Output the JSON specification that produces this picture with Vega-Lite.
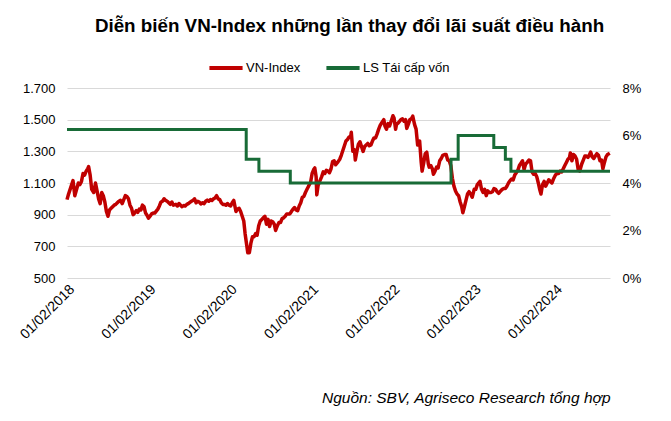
{
  "$schema": "https://vega.github.io/schema/vega-lite/v6.json",
  "width": 543,
  "height": 190,
  "autosize": "none",
  "padding": {"left": 67, "top": 88, "right": 61, "bottom": 143},
  "background": "white",
  "config": {"view": {"stroke": null}, "font": "Liberation Sans"},
  "title": {
    "text": "Diễn biến VN-Index những lần thay đổi lãi suất điều hành",
    "fontSize": 18.8, "fontWeight": "bold", "font": "Liberation Sans", "color": "#000000",
    "anchor": "middle", "frame": "group", "offset": 13, "dx": 11
  },
  "datasets": {
    "vn": [
      {"d":"2018-01-02","v":995},{"d":"2018-01-09","v":1030},{"d":"2018-01-16","v":1060},{"d":"2018-01-23","v":1090},{"d":"2018-01-29","v":1115},
      {"d":"2018-02-06","v":1020},{"d":"2018-02-12","v":1050},{"d":"2018-02-22","v":1100},{"d":"2018-03-01","v":1090},{"d":"2018-03-08","v":1110},
      {"d":"2018-03-15","v":1160},{"d":"2018-03-22","v":1150},{"d":"2018-03-29","v":1175},{"d":"2018-04-05","v":1190},{"d":"2018-04-09","v":1204},
      {"d":"2018-04-16","v":1150},{"d":"2018-04-23","v":1060},{"d":"2018-05-02","v":1040},{"d":"2018-05-10","v":1100},{"d":"2018-05-17","v":1050},
      {"d":"2018-05-24","v":1000},{"d":"2018-05-31","v":970},{"d":"2018-06-07","v":1040},{"d":"2018-06-14","v":1020},{"d":"2018-06-21","v":980},
      {"d":"2018-06-28","v":920},{"d":"2018-07-05","v":890},{"d":"2018-07-12","v":930},{"d":"2018-07-19","v":940},{"d":"2018-07-26","v":950},
      {"d":"2018-08-02","v":960},{"d":"2018-08-09","v":965},{"d":"2018-08-16","v":975},{"d":"2018-08-23","v":985},{"d":"2018-08-30","v":990},
      {"d":"2018-09-07","v":970},{"d":"2018-09-14","v":995},{"d":"2018-09-21","v":1020},{"d":"2018-09-28","v":1015},{"d":"2018-10-05","v":1000},
      {"d":"2018-10-12","v":960},{"d":"2018-10-19","v":940},{"d":"2018-10-26","v":900},{"d":"2018-11-02","v":910},{"d":"2018-11-09","v":925},
      {"d":"2018-11-16","v":915},{"d":"2018-11-23","v":935},{"d":"2018-11-30","v":930},{"d":"2018-12-07","v":960},{"d":"2018-12-14","v":950},
      {"d":"2018-12-21","v":910},{"d":"2018-12-28","v":895},{"d":"2019-01-03","v":878},{"d":"2019-01-10","v":890},{"d":"2019-01-17","v":905},
      {"d":"2019-01-24","v":910},{"d":"2019-01-31","v":910},{"d":"2019-02-14","v":935},{"d":"2019-02-21","v":955},{"d":"2019-02-28","v":980},
      {"d":"2019-03-07","v":985},{"d":"2019-03-14","v":1000},{"d":"2019-03-21","v":990},{"d":"2019-03-28","v":985},{"d":"2019-04-04","v":975},
      {"d":"2019-04-11","v":965},{"d":"2019-04-18","v":980},{"d":"2019-04-25","v":960},{"d":"2019-05-06","v":965},{"d":"2019-05-13","v":955},
      {"d":"2019-05-20","v":970},{"d":"2019-05-27","v":960},{"d":"2019-06-03","v":950},{"d":"2019-06-10","v":958},{"d":"2019-06-17","v":955},
      {"d":"2019-06-24","v":965},{"d":"2019-07-01","v":970},{"d":"2019-07-08","v":978},{"d":"2019-07-15","v":985},{"d":"2019-07-22","v":990},
      {"d":"2019-07-29","v":1000},{"d":"2019-08-05","v":975},{"d":"2019-08-12","v":985},{"d":"2019-08-19","v":980},{"d":"2019-08-26","v":968},
      {"d":"2019-09-03","v":975},{"d":"2019-09-10","v":970},{"d":"2019-09-17","v":985},{"d":"2019-09-24","v":992},{"d":"2019-10-01","v":985},
      {"d":"2019-10-08","v":995},{"d":"2019-10-15","v":990},{"d":"2019-10-22","v":1000},{"d":"2019-10-29","v":1005},{"d":"2019-11-05","v":1020},
      {"d":"2019-11-12","v":1000},{"d":"2019-11-19","v":995},{"d":"2019-11-26","v":975},{"d":"2019-12-03","v":965},{"d":"2019-12-10","v":965},
      {"d":"2019-12-17","v":960},{"d":"2019-12-24","v":970},{"d":"2019-12-31","v":960},{"d":"2020-01-07","v":955},{"d":"2020-01-14","v":975},
      {"d":"2020-01-21","v":990},{"d":"2020-01-31","v":920},{"d":"2020-02-07","v":935},{"d":"2020-02-14","v":940},{"d":"2020-02-21","v":920},
      {"d":"2020-02-28","v":890},{"d":"2020-03-06","v":860},{"d":"2020-03-12","v":780},{"d":"2020-03-19","v":710},{"d":"2020-03-24","v":660},
      {"d":"2020-03-31","v":660},{"d":"2020-04-07","v":720},{"d":"2020-04-14","v":760},{"d":"2020-04-21","v":760},{"d":"2020-04-28","v":780},
      {"d":"2020-05-05","v":770},{"d":"2020-05-12","v":830},{"d":"2020-05-19","v":860},{"d":"2020-05-26","v":870},{"d":"2020-06-02","v":880},
      {"d":"2020-06-09","v":890},{"d":"2020-06-16","v":840},{"d":"2020-06-23","v":870},{"d":"2020-06-30","v":825},{"d":"2020-07-07","v":860},
      {"d":"2020-07-14","v":855},{"d":"2020-07-21","v":840},{"d":"2020-07-27","v":800},{"d":"2020-08-04","v":830},{"d":"2020-08-11","v":850},
      {"d":"2020-08-18","v":850},{"d":"2020-08-25","v":875},{"d":"2020-09-01","v":880},{"d":"2020-09-08","v":890},{"d":"2020-09-15","v":905},
      {"d":"2020-09-22","v":905},{"d":"2020-09-29","v":905},{"d":"2020-10-06","v":920},{"d":"2020-10-13","v":935},{"d":"2020-10-20","v":945},
      {"d":"2020-10-27","v":930},{"d":"2020-11-03","v":925},{"d":"2020-11-10","v":955},{"d":"2020-11-17","v":975},{"d":"2020-11-24","v":1010},
      {"d":"2020-12-01","v":1015},{"d":"2020-12-08","v":1040},{"d":"2020-12-15","v":1060},{"d":"2020-12-22","v":1080},{"d":"2020-12-31","v":1103},
      {"d":"2021-01-07","v":1160},{"d":"2021-01-14","v":1185},{"d":"2021-01-19","v":1195},{"d":"2021-01-25","v":1140},{"d":"2021-01-28","v":1025},
      {"d":"2021-02-03","v":1085},{"d":"2021-02-10","v":1110},{"d":"2021-02-19","v":1140},{"d":"2021-02-26","v":1170},{"d":"2021-03-05","v":1160},
      {"d":"2021-03-12","v":1180},{"d":"2021-03-19","v":1175},{"d":"2021-03-26","v":1165},{"d":"2021-04-02","v":1190},{"d":"2021-04-09","v":1235},
      {"d":"2021-04-16","v":1240},{"d":"2021-04-23","v":1215},{"d":"2021-05-04","v":1235},{"d":"2021-05-11","v":1250},{"d":"2021-05-18","v":1275},
      {"d":"2021-05-25","v":1305},{"d":"2021-06-01","v":1335},{"d":"2021-06-08","v":1365},{"d":"2021-06-15","v":1375},{"d":"2021-06-22","v":1390},
      {"d":"2021-06-29","v":1390},{"d":"2021-07-02","v":1420},{"d":"2021-07-09","v":1300},{"d":"2021-07-16","v":1310},{"d":"2021-07-20","v":1245},
      {"d":"2021-07-27","v":1300},{"d":"2021-08-03","v":1345},{"d":"2021-08-10","v":1360},{"d":"2021-08-17","v":1330},{"d":"2021-08-24","v":1300},
      {"d":"2021-08-31","v":1330},{"d":"2021-09-07","v":1340},{"d":"2021-09-14","v":1350},{"d":"2021-09-21","v":1335},{"d":"2021-09-28","v":1340},
      {"d":"2021-10-05","v":1365},{"d":"2021-10-12","v":1385},{"d":"2021-10-19","v":1385},{"d":"2021-10-26","v":1410},{"d":"2021-11-02","v":1440},
      {"d":"2021-11-09","v":1465},{"d":"2021-11-16","v":1480},{"d":"2021-11-25","v":1500},{"d":"2021-11-30","v":1460},{"d":"2021-12-07","v":1440},
      {"d":"2021-12-14","v":1475},{"d":"2021-12-21","v":1460},{"d":"2021-12-28","v":1490},{"d":"2022-01-05","v":1525},{"d":"2022-01-10","v":1510},
      {"d":"2022-01-17","v":1440},{"d":"2022-01-21","v":1470},{"d":"2022-01-28","v":1478},{"d":"2022-02-10","v":1500},{"d":"2022-02-17","v":1505},
      {"d":"2022-02-24","v":1490},{"d":"2022-03-03","v":1500},{"d":"2022-03-08","v":1445},{"d":"2022-03-15","v":1470},{"d":"2022-03-22","v":1500},
      {"d":"2022-03-29","v":1505},{"d":"2022-04-04","v":1522},{"d":"2022-04-12","v":1470},{"d":"2022-04-19","v":1440},{"d":"2022-04-26","v":1340},
      {"d":"2022-05-05","v":1365},{"d":"2022-05-12","v":1230},{"d":"2022-05-16","v":1175},{"d":"2022-05-23","v":1225},{"d":"2022-05-30","v":1285},
      {"d":"2022-06-06","v":1295},{"d":"2022-06-13","v":1220},{"d":"2022-06-17","v":1200},{"d":"2022-06-24","v":1210},{"d":"2022-07-01","v":1190},
      {"d":"2022-07-06","v":1155},{"d":"2022-07-13","v":1175},{"d":"2022-07-20","v":1200},{"d":"2022-07-27","v":1195},{"d":"2022-08-03","v":1240},
      {"d":"2022-08-10","v":1255},{"d":"2022-08-17","v":1275},{"d":"2022-08-25","v":1280},{"d":"2022-09-01","v":1280},{"d":"2022-09-08","v":1245},
      {"d":"2022-09-15","v":1240},{"d":"2022-09-22","v":1210},{"d":"2022-09-29","v":1130},{"d":"2022-10-06","v":1080},{"d":"2022-10-13","v":1050},
      {"d":"2022-10-20","v":1030},{"d":"2022-10-27","v":1020},{"d":"2022-11-03","v":980},{"d":"2022-11-10","v":950},{"d":"2022-11-15","v":912},
      {"d":"2022-11-22","v":950},{"d":"2022-11-29","v":990},{"d":"2022-12-06","v":1030},{"d":"2022-12-13","v":1045},{"d":"2022-12-20","v":1030},
      {"d":"2022-12-27","v":1010},{"d":"2023-01-05","v":1060},{"d":"2023-01-12","v":1060},{"d":"2023-01-19","v":1090},{"d":"2023-01-31","v":1110},
      {"d":"2023-02-07","v":1060},{"d":"2023-02-14","v":1040},{"d":"2023-02-21","v":1060},{"d":"2023-02-28","v":1020},{"d":"2023-03-07","v":1050},
      {"d":"2023-03-14","v":1040},{"d":"2023-03-21","v":1040},{"d":"2023-03-28","v":1045},{"d":"2023-04-04","v":1065},{"d":"2023-04-11","v":1060},
      {"d":"2023-04-18","v":1045},{"d":"2023-04-25","v":1035},{"d":"2023-05-04","v":1050},{"d":"2023-05-11","v":1060},{"d":"2023-05-18","v":1065},
      {"d":"2023-05-25","v":1065},{"d":"2023-06-01","v":1080},{"d":"2023-06-08","v":1100},{"d":"2023-06-15","v":1115},{"d":"2023-06-22","v":1125},
      {"d":"2023-06-29","v":1120},{"d":"2023-07-06","v":1150},{"d":"2023-07-13","v":1165},{"d":"2023-07-20","v":1180},{"d":"2023-07-27","v":1210},
      {"d":"2023-08-03","v":1225},{"d":"2023-08-10","v":1240},{"d":"2023-08-17","v":1185},{"d":"2023-08-24","v":1220},{"d":"2023-08-31","v":1230},
      {"d":"2023-09-08","v":1245},{"d":"2023-09-15","v":1240},{"d":"2023-09-22","v":1170},{"d":"2023-09-29","v":1155},{"d":"2023-10-06","v":1160},
      {"d":"2023-10-13","v":1140},{"d":"2023-10-20","v":1100},{"d":"2023-10-27","v":1055},{"d":"2023-11-01","v":1030},{"d":"2023-11-08","v":1090},
      {"d":"2023-11-15","v":1110},{"d":"2023-11-22","v":1080},{"d":"2023-11-29","v":1100},{"d":"2023-12-06","v":1120},{"d":"2023-12-13","v":1110},
      {"d":"2023-12-20","v":1100},{"d":"2023-12-27","v":1125},{"d":"2024-01-05","v":1150},{"d":"2024-01-12","v":1160},{"d":"2024-01-19","v":1160},
      {"d":"2024-01-26","v":1175},{"d":"2024-02-02","v":1170},{"d":"2024-02-16","v":1210},{"d":"2024-02-23","v":1230},{"d":"2024-03-01","v":1250},
      {"d":"2024-03-08","v":1260},{"d":"2024-03-12","v":1290},{"d":"2024-03-19","v":1240},{"d":"2024-03-26","v":1280},{"d":"2024-04-02","v":1270},
      {"d":"2024-04-09","v":1250},{"d":"2024-04-16","v":1185},{"d":"2024-04-23","v":1175},{"d":"2024-05-02","v":1220},{"d":"2024-05-09","v":1245},
      {"d":"2024-05-16","v":1270},{"d":"2024-05-23","v":1270},{"d":"2024-05-30","v":1262},{"d":"2024-06-06","v":1280},{"d":"2024-06-11","v":1295},
      {"d":"2024-06-18","v":1265},{"d":"2024-06-25","v":1255},{"d":"2024-07-02","v":1270},{"d":"2024-07-09","v":1285},{"d":"2024-07-16","v":1275},
      {"d":"2024-07-23","v":1240},{"d":"2024-07-30","v":1245},{"d":"2024-08-05","v":1190},{"d":"2024-08-12","v":1230},{"d":"2024-08-19","v":1265},
      {"d":"2024-08-26","v":1280},{"d":"2024-09-05","v":1288}
    ],
    "ls": [
      {"d":"2018-01-02","r":6.25},{"d":"2020-03-17","r":5},{"d":"2020-05-13","r":4.5},{"d":"2020-10-01","r":4},
      {"d":"2022-09-23","r":5},{"d":"2022-10-25","r":6},{"d":"2023-04-03","r":5.5},{"d":"2023-05-25","r":5},
      {"d":"2023-06-19","r":4.5},{"d":"2024-09-06","r":4.5}
    ]
  },
  "layer": [
    {
      "data": {"name": "vn"},
      "mark": {"type": "line", "strokeWidth": 3.5, "strokeJoin": "round"},
      "encoding": {
        "x": {
          "field": "d", "type": "temporal",
          "scale": {"domain": [{"year": 2018, "month": 1, "date": 2}, {"year": 2024, "month": 9, "date": 6}]},
          "axis": {
            "title": "Nguồn: SBV, Agriseco Research tổng hợp",
            "titleFont": "Liberation Sans", "titleFontStyle": "italic", "titleFontWeight": "normal",
            "titleFontSize": 15.5, "titleColor": "#000000", "titleAnchor": "end", "titlePadding": 49,
            "values": [
              {"year": 2018, "month": 1, "date": 2}, {"year": 2019, "month": 1, "date": 2},
              {"year": 2020, "month": 1, "date": 2}, {"year": 2021, "month": 1, "date": 2},
              {"year": 2022, "month": 1, "date": 2}, {"year": 2023, "month": 1, "date": 2},
              {"year": 2024, "month": 1, "date": 2}
            ],
            "labelExpr": "timeFormat(datum.value, '%m/%d/%Y')",
            "labelAngle": -45, "labelFontSize": 14, "labelColor": "#000000",
            "labelPadding": 4, "ticks": false, "domain": false, "grid": false
          }
        },
        "y": {
          "field": "v", "type": "quantitative",
          "scale": {"domain": [500, 1700], "nice": false, "zero": false},
          "axis": {
            "title": null, "values": [500, 700, 900, 1100, 1300, 1500, 1700],
            "labelExpr": "replace(format(datum.value, ','), ',', '.')",
            "labelFontSize": 13, "labelColor": "#000000", "labelPadding": 12,
            "ticks": false, "domain": false, "grid": true, "gridColor": "#D9D9D9", "gridWidth": 1
          }
        },
        "color": {
          "datum": "VN-Index", "type": "nominal",
          "scale": {"domain": ["VN-Index", "LS Tái cấp vốn"], "range": ["#C00000", "#186B37"]},
          "legend": {
            "title": null, "orient": "none", "direction": "horizontal",
            "legendX": 140, "legendY": -39,
            "symbolType": "stroke", "symbolSize": 1100, "symbolStrokeWidth": 4,
            "labelFontSize": 13, "labelColor": "#000000", "labelFont": "Liberation Sans",
            "columnPadding": 17, "labelOffset": 1
          }
        }
      }
    },
    {
      "data": {"name": "ls"},
      "mark": {"type": "line", "strokeWidth": 3, "interpolate": "step-after"},
      "encoding": {
        "x": {"field": "d", "type": "temporal"},
        "y": {
          "field": "r", "type": "quantitative",
          "scale": {"domain": [0, 8], "nice": false},
          "axis": {
            "orient": "right", "title": null, "values": [0, 2, 4, 6, 8],
            "labelExpr": "datum.value + '%'",
            "labelFontSize": 13, "labelColor": "#000000", "labelPadding": 12,
            "ticks": false, "domain": false, "grid": false
          }
        },
        "color": {"datum": "LS Tái cấp vốn", "type": "nominal"}
      }
    }
  ],
  "resolve": {"scale": {"y": "independent"}}
}
